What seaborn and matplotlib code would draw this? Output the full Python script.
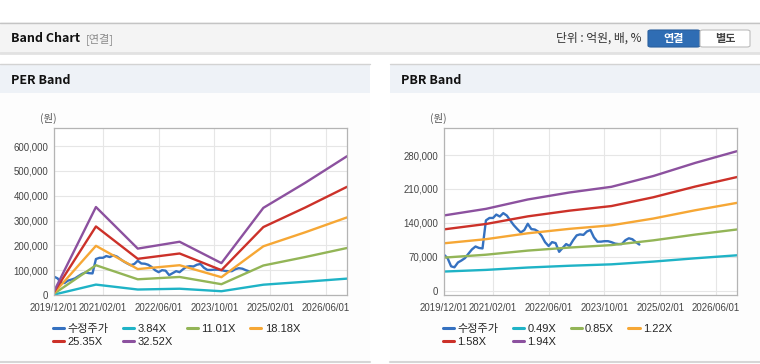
import matplotlib
matplotlib.use("Agg")
import matplotlib.pyplot as plt
import matplotlib.dates as mdates
from matplotlib.patches import Rectangle, FancyBboxPatch
from matplotlib.ticker import FuncFormatter
import pandas as pd
import seaborn as sns

W, H = 760, 364

# adjusted close (won), monthly from 2019/12
price_start = "2019-12-01"
price = [74000, 67000, 50000, 48000, 58000, 62000, 67000, 76000, 85000, 91000,
         88000, 87000, 145000, 150000, 150000, 157000, 153000, 160000, 155000, 145000,
         135000, 127000, 120000, 125000, 138000, 127000, 126000, 122000, 113000, 100000,
         92000, 100000, 98000, 80000, 88000, 96000, 92000, 104000, 114000, 116000,
         115000, 122000, 125000, 110000, 101000, 101000, 102000, 102000, 100000, 97000,
         96000, 96000, 104000, 108000, 106000, 100000, 95000]

band_dates = ["2019-12-01", "2020-12-01", "2021-12-01", "2022-12-01",
              "2023-12-01", "2024-12-01", "2025-12-01", "2026-12-01"]

per_labels = ["3.84X", "11.01X", "18.18X", "25.35X", "32.52X"]
per_384 = [1700, 41900, 22100, 25300, 15200, 41500, 53400, 66000]
per_1101 = [5000, 120000, 63300, 72700, 43500, 118900, 153000, 189400]
per_1818 = [8200, 198200, 104500, 120000, 71800, 196300, 252700, 312700]
per_2535 = [11400, 276300, 145800, 167300, 100100, 273800, 352400, 436000]
per_3252 = [14600, 354500, 187000, 214600, 128500, 351200, 452100, 559300]

pbr_labels = ["0.49X", "0.85X", "1.22X", "1.58X", "1.94X"]
pbr_049 = [39200, 42600, 47500, 51200, 54100, 59800, 66600, 72800]
pbr_085 = [68000, 74000, 82500, 88800, 93900, 103700, 115600, 126200]
pbr_122 = [97600, 106100, 118300, 127500, 134800, 148800, 165900, 181200]
pbr_158 = [126400, 137500, 153300, 165100, 174600, 192800, 214900, 234600]
pbr_194 = [155200, 168800, 188200, 202700, 214400, 236700, 263800, 288100]

tick_dates = ["2019-12-01", "2021-02-01", "2022-06-01", "2023-10-01", "2025-02-01", "2026-06-01"]
colors = ["#3571c0", "#1fb3c6", "#93b557", "#f6a735", "#cc3129", "#8c519f"]
price_label = "수정주가"


def band_frame(labels, series):
    rows = []
    for d, v in zip(pd.date_range(price_start, periods=len(price), freq="MS"), price):
        rows.append({"date": d, "value": v, "series": price_label})
    for lab, vals in zip(labels, series):
        for d, v in zip(pd.to_datetime(band_dates), vals):
            rows.append({"date": d, "value": v, "series": lab})
    return pd.DataFrame(rows)


sns.set_style("white")
plt.rcParams["font.family"] = ["Noto Sans CJK KR", "DejaVu Sans"]
tick_font = ["Liberation Sans", "Noto Sans CJK KR"]

fig = plt.figure(figsize=(W / 100, H / 100), dpi=100)
fig.patch.set_facecolor("white")


def rect(x, y, w, h, **kw):
    r = Rectangle((x / W, 1 - (y + h) / H), w / W, h / H, transform=fig.transFigure,
                  zorder=-5, **kw)
    fig.add_artist(r)


def hline(x0, x1, y, color, lw=1):
    fig.add_artist(plt.Line2D([x0 / W, x1 / W], [1 - y / H, 1 - y / H],
                              transform=fig.transFigure, color=color, lw=lw, zorder=-4))


def text(x, y, s, **kw):
    fig.text(x / W, 1 - y / H, s, va="center", **kw)


# top header bar
rect(0, 22.5, 760, 30, facecolor="#f4f4f4", edgecolor="none")
hline(0, 760, 22.5, "#c4c4c4")
hline(0, 760, 53, "#e2e2e2", lw=2)
text(11, 39, "Band Chart", fontsize=9, fontweight="bold", color="#111111")
text(86, 39.5, "[연결]", fontsize=8, color="#8a8a8a")
text(641, 38.5, "단위 : 억원, 배, %", fontsize=8.5, color="#333333", ha="right")
b1 = FancyBboxPatch((648 / W, 1 - 47 / H), 52 / W, 17 / H, boxstyle="round,pad=0,rounding_size=0.004",
                    transform=fig.transFigure, facecolor="#2f6db4", edgecolor="#2a5f9e", lw=0.8)
b2 = FancyBboxPatch((700 / W, 1 - 47 / H), 50 / W, 17 / H, boxstyle="round,pad=0,rounding_size=0.004",
                    transform=fig.transFigure, facecolor="white", edgecolor="#bdbdbd", lw=0.8)
fig.add_artist(b1)
fig.add_artist(b2)
text(674, 38.5, "연결", fontsize=8, fontweight="bold", color="white", ha="center")
text(725, 38.5, "별도", fontsize=8, fontweight="bold", color="#444444", ha="center")

# panels
for x0, title in [(0, "PER Band"), (390, "PBR Band")]:
    rect(x0, 64, 370, 29, facecolor="#eef2f7", edgecolor="none")
    rect(x0, 93, 370, 268, facecolor="#fdfdfd", edgecolor="none")
    hline(x0, x0 + 370, 64, "#d3d3d3")
    hline(x0, x0 + 370, 361.5, "#d6d6d6", lw=1.5)
    text(x0 + 11, 80, title, fontsize=9, fontweight="bold", color="#111111")

charts = [
    (54, band_frame(per_labels, [per_384, per_1101, per_1818, per_2535, per_3252]),
     per_labels, (0, 673000), range(0, 600001, 100000), 48),
    (444, band_frame(pbr_labels, [pbr_049, pbr_085, pbr_122, pbr_158, pbr_194]),
     pbr_labels, (-9300, 336000), range(0, 280001, 70000), 438),
]

for left, df, labels, ylim, yticks, unit_x in charts:
    ax = fig.add_axes([left / W, 1 - 295 / H, 293 / W, 167 / H])
    ax.set_facecolor("white")
    order = [price_label] + labels
    sns.lineplot(data=df, x="date", y="value", hue="series", hue_order=order,
                 palette=colors, lw=1.7, ax=ax, estimator=None, sort=True)
    ax.set_xlim(pd.Timestamp("2019-12-01"), pd.Timestamp("2026-12-01"))
    ax.set_ylim(*ylim)
    ax.set_yticks(list(yticks))
    ax.set_xticks(pd.to_datetime(tick_dates))
    ax.xaxis.set_major_formatter(mdates.DateFormatter("%Y/%m/%d"))
    ax.yaxis.set_major_formatter(FuncFormatter(lambda v, p: f"{v:,.0f}"))
    ax.set_xlabel("")
    ax.set_ylabel("")
    ax.grid(True, color="#e6e6e6", lw=0.8)
    for s in ax.spines.values():
        s.set_color("#b4b4b4")
        s.set_linewidth(0.9)
    ax.tick_params(axis="both", length=3, width=0.8, color="#b4b4b4",
                   labelsize=6.9, labelcolor="#444444")
    ax.tick_params(axis="y", pad=1.2)
    ax.tick_params(axis="x", pad=2.5)
    for lab in ax.get_xticklabels() + ax.get_yticklabels():
        lab.set_family(tick_font)
    text(unit_x, 118, "(원)", fontsize=7.5, color="#555555", ha="center")

    handles, labs = ax.get_legend_handles_labels()
    idx = [0, 4, 1, 5, 2, 3]
    ax.legend([handles[i] for i in idx], [labs[i] for i in idx], ncol=4,
              loc="upper left", bbox_to_anchor=((left - 1) / W, 1 - 324 / H),
              bbox_transform=fig.transFigure, frameon=False, borderpad=0,
              borderaxespad=0, handlelength=1.0, handletextpad=0.3,
              columnspacing=1.3, labelspacing=0.25,
              prop={"family": tick_font, "size": 8})
    for lh in ax.get_legend().get_lines():
        lh.set_linewidth(2.2)

fig.savefig("out.png", dpi=100)
